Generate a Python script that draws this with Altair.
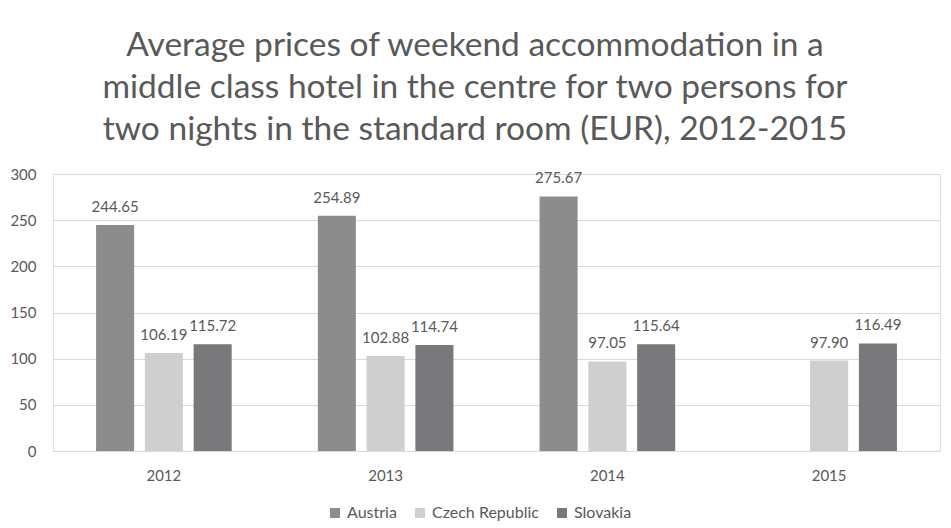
import altair as alt
import pandas as pd

years = ["2012", "2013", "2014", "2015"]
countries = ["Austria", "Czech Republic", "Slovakia"]
austria = [244.65, 254.89, 275.67, None]
czech = [106.19, 102.88, 97.05, 97.90]
slovakia = [115.72, 114.74, 115.64, 116.49]

rows = []
for i, y in enumerate(years):
    for c, vals in zip(countries, [austria, czech, slovakia]):
        if vals[i] is not None:
            rows.append({"year": y, "country": c, "price": vals[i], "label": f"{vals[i]:.2f}"})
df = pd.DataFrame(rows)

FONT = "Lato"
TXT = "#595959"

x = alt.X("year:N", sort=years, title=None,
          scale=alt.Scale(paddingInner=0.34, paddingOuter=0.17),
          axis=alt.Axis(labelAngle=0, ticks=False, domain=False, labelPadding=17,
                        labelFontSize=15, labelColor=TXT, labelFont=FONT))
xo = alt.XOffset("country:N", sort=countries,
                 scale=alt.Scale(paddingInner=0.22, paddingOuter=0.11))
y = alt.Y("price:Q", title=None,
          scale=alt.Scale(domain=[0, 300], nice=False),
          axis=alt.Axis(values=[0, 50, 100, 150, 200, 250, 300], ticks=False, domain=False,
                        labelFontSize=15, labelColor=TXT, labelFont=FONT, labelPadding=17,
                        gridColor="#d9d9d9", gridWidth=1))

color = alt.Color("country:N", sort=countries,
                  scale=alt.Scale(domain=countries, range=["#8c8c8c", "#cfcfcf", "#79797b"]),
                  legend=alt.Legend(orient="none", legendX=274, legendY=331,
                                    direction="horizontal", title=None,
                                    symbolType="square", symbolSize=100, symbolStrokeWidth=0,
                                    labelFontSize=16, labelColor=TXT, labelFont=FONT,
                                    labelOffset=4, columnPadding=15))

bars = alt.Chart(df).mark_bar().encode(x=x, xOffset=xo, y=y, color=color)
labels = alt.Chart(df).mark_text(dy=-18, fontSize=15, font=FONT, color=TXT).encode(
    x=x, xOffset=xo, y=y, text="label:N")

chart = (bars + labels).properties(
    width=887, height=277,
    title=alt.TitleParams(
        ["Average prices of weekend accommodation in a",
         "middle class hotel in the centre for two persons for",
         "two nights in the standard room (EUR), 2012-2015"],
        fontSize=33.5, font=FONT, fontWeight="normal", color=TXT, anchor="middle",
        frame="bounds", lineHeight=42, offset=20),
    autosize="none",
    padding={"left": 45, "top": 166, "right": 3, "bottom": 75},
).configure_view(stroke=None).configure(background="white")

chart.save("out.html", embed_options={"renderer": "svg", "actions": False})
